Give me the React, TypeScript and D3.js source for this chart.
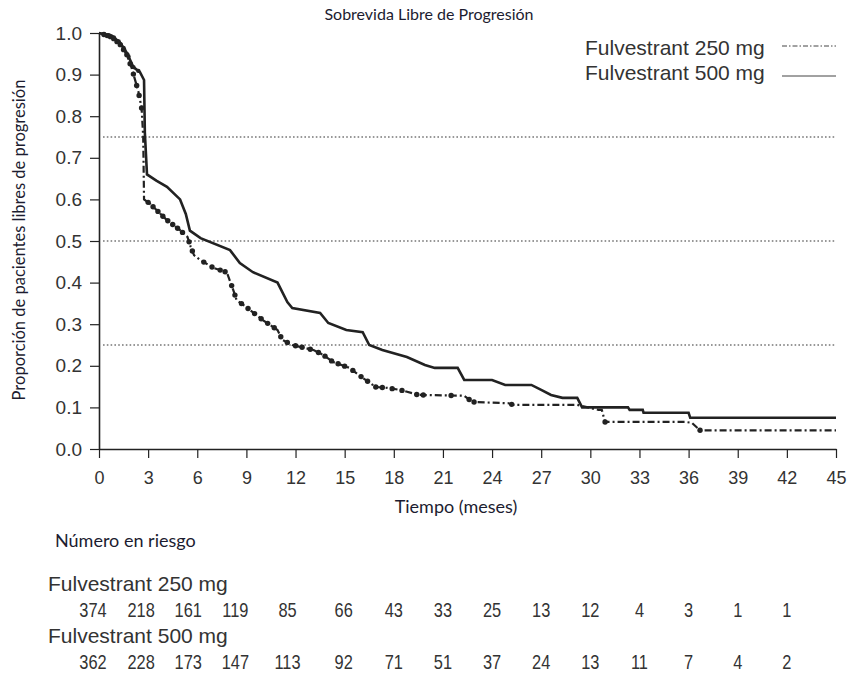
import React, { useEffect, useRef } from 'react';
import * as d3 from 'd3';

// Kaplan-Meier readings (months, proportion free of progression)
const months500 = [0, 0.8, 1.3, 1.7, 2.1, 2.5, 2.75, 2.8, 2.93, 3.5, 4.15, 4.95, 5.3, 5.55, 6.2, 8.0, 8.6, 9.4, 10.9, 11.5, 11.8, 13.5, 14.0, 15.1, 16.1, 16.5, 17.3, 18.8, 19.9, 20.5, 21.9, 22.3, 24.0, 24.8, 26.4, 27.0, 27.6, 28.3, 29.2, 29.5, 32.3, 32.4, 33.2, 33.25, 36.0, 36.1, 45];
const surv500 = [1.0, 0.993, 0.976, 0.952, 0.918, 0.906, 0.887, 0.76, 0.66, 0.645, 0.63, 0.60, 0.565, 0.525, 0.507, 0.478, 0.447, 0.425, 0.40, 0.353, 0.339, 0.327, 0.303, 0.286, 0.281, 0.25, 0.238, 0.221, 0.202, 0.195, 0.195, 0.166, 0.166, 0.154, 0.154, 0.142, 0.13, 0.123, 0.123, 0.10, 0.10, 0.094, 0.094, 0.087, 0.087, 0.075, 0.075];

const months250 = [0, 0.8, 1.3, 1.7, 2.0, 2.4, 2.6, 2.7, 2.75, 3.1, 3.5, 4.15, 4.95, 5.4, 5.6, 5.8, 6.2, 7.0, 7.8, 8.2, 8.4, 9.0, 10.0, 10.9, 11.2, 11.8, 13.1, 13.7, 14.3, 15.3, 16.1, 16.9, 17.6, 18.4, 19.5, 22.3, 22.8, 25.0, 25.3, 29.2, 30.5, 30.7, 30.9, 35.8, 36.2, 36.7, 45];
const surv250 = [1.0, 0.99, 0.972, 0.948, 0.915, 0.86, 0.82, 0.75, 0.60, 0.59, 0.575, 0.55, 0.526, 0.51, 0.486, 0.466, 0.454, 0.435, 0.425, 0.382, 0.358, 0.341, 0.31, 0.286, 0.262, 0.25, 0.238, 0.226, 0.209, 0.195, 0.171, 0.149, 0.147, 0.142, 0.13, 0.128, 0.113, 0.11, 0.106, 0.106, 0.094, 0.094, 0.065, 0.065, 0.063, 0.045, 0.045];

// censoring marks
const censor250 = [0.3, 0.5, 0.7, 0.9, 1.1, 1.3, 1.5, 1.7, 1.9, 2.1, 2.3, 2.45, 2.6, 3.0, 3.3, 3.6, 3.9, 4.2, 4.5, 4.8, 5.1, 5.5, 5.7, 6.4, 6.9, 7.4, 7.7, 8.1, 8.3, 8.7, 9.1, 9.5, 9.9, 10.3, 10.7, 11.1, 11.5, 12.0, 12.4, 12.9, 13.4, 13.8, 14.2, 14.6, 15.0, 15.5, 16.0, 16.4, 16.9, 17.3, 17.9, 18.5, 19.4, 19.8, 21.5, 22.6, 22.9, 25.2, 30.9, 36.7];
const censor500 = [0.3, 0.6, 0.9, 1.2, 1.5, 1.8, 2.1, 2.4];

const xTicks = [0, 3, 6, 9, 12, 15, 18, 21, 24, 27, 30, 33, 36, 39, 42, 45];
const yTicks = [0, 0.1, 0.2, 0.3, 0.4, 0.5, 0.6, 0.7, 0.8, 0.9, 1.0];
const refLines = [0.25, 0.5, 0.75];

const riskTimes = [0, 3, 6, 9, 12, 15, 18, 21, 24, 27, 30, 33, 36, 39, 42];
const risk250 = [374, 218, 161, 119, 85, 66, 43, 33, 25, 13, 12, 4, 3, 1, 1];
const risk500 = [362, 228, 173, 147, 113, 92, 71, 51, 37, 24, 13, 11, 7, 4, 2];

const groups = ['Fulvestrant 250 mg', 'Fulvestrant 500 mg'];

const W = 850, H = 674;
const sans = '"Liberation Sans", Arial, sans-serif';
const cal = 'Lato, "Open Sans", sans-serif';
const ink = '#222';
// the printed risk table drifts a little left of the ticks in its first columns
const riskShift = [-6, -7, -9, -11, -8, -1, 0, 0, 0, 0, 0, 0, 0, 0, 0];

function interp(ts: number[], ss: number[], t: number) {
  for (let i = 1; i < ts.length; i++) {
    if (t <= ts[i]) {
      const f = (t - ts[i - 1]) / (ts[i] - ts[i - 1] || 1);
      return ss[i - 1] + f * (ss[i] - ss[i - 1]);
    }
  }
  return ss[ss.length - 1];
}

export default function App() {
  const ref = useRef<SVGSVGElement>(null);

  useEffect(() => {
    const svg = d3.select(ref.current);
    svg.selectAll('*').remove();

    const x = d3.scaleLinear().domain([0, 45]).range([99, 836]);
    const y = d3.scaleLinear().domain([0, 1]).range([449, 33]);

    // title
    svg.append('text').attr('x', 429).attr('y', 20).attr('text-anchor', 'middle')
      .style('font-family', cal).style('font-size', '16px').style('fill', '#1c1c30')
      .text('Sobrevida Libre de Progresión');

    // reference lines
    svg.selectAll('.ref').data(refLines).join('line')
      .attr('x1', x(0) + 4).attr('x2', x(45)).attr('y1', d => y(d)).attr('y2', d => y(d))
      .attr('stroke', '#333').attr('stroke-width', 1.1).attr('stroke-dasharray', '1.6,2.2');

    // axes
    const xa = svg.append('g').attr('transform', `translate(0,${y(0)})`)
      .call(d3.axisBottom(x).tickValues(xTicks).tickSize(9).tickSizeOuter(0).tickPadding(13));
    const ya = svg.append('g').attr('transform', `translate(${x(0)},0)`)
      .call(d3.axisLeft(y).tickValues(yTicks).tickFormat(d3.format('.1f')).tickSize(9).tickSizeOuter(0).tickPadding(8));
    [xa, ya].forEach(a => {
      a.selectAll('path').attr('stroke', ink).attr('stroke-width', 1.6);
      a.selectAll('line').attr('stroke', ink).attr('stroke-width', 1.2);
      a.selectAll('text').style('font-family', sans).style('font-size', '18px').style('fill', '#333');
    });
    ya.selectAll('text').style('font-size', '19px');

    // curves
    const line = d3.line<[number, number]>().x(d => x(d[0])).y(d => y(d[1]));
    const pts250 = months250.map((t, i) => [t, surv250[i]] as [number, number]);
    const pts500 = months500.map((t, i) => [t, surv500[i]] as [number, number]);

    svg.append('path').attr('d', line(pts250)).attr('fill', 'none').attr('stroke', ink)
      .attr('stroke-width', 2.2).attr('stroke-dasharray', '7,3,2,3');
    svg.append('path').attr('d', line(pts500)).attr('fill', 'none').attr('stroke', ink)
      .attr('stroke-width', 2.6);

    svg.selectAll('.c250').data(censor250).join('circle')
      .attr('cx', d => x(d)).attr('cy', d => y(interp(months250, surv250, d)))
      .attr('r', 2.7).attr('fill', ink);
    svg.selectAll('.c500').data(censor500).join('circle')
      .attr('cx', d => x(d)).attr('cy', d => y(interp(months500, surv500, d)))
      .attr('r', 2.2).attr('fill', ink);

    // y label
    svg.append('text').attr('transform', 'translate(25,240) rotate(-90)').attr('text-anchor', 'middle')
      .style('font-family', cal).style('font-size', '16.5px').style('fill', '#1c1c30')
      .text('Proporción de pacientes libres de progresión');

    // x label
    svg.append('text').attr('x', 456).attr('y', 513).attr('text-anchor', 'middle')
      .style('font-family', cal).style('font-size', '18px').style('fill', '#1c1c30')
      .text('Tiempo (meses)');

    // legend
    const leg = svg.append('g');
    groups.forEach((g, i) => {
      leg.append('text').attr('x', 585).attr('y', 55 + i * 25)
        .style('font-family', sans).style('font-size', '21px').style('fill', '#333').text(g);
      leg.append('line').attr('x1', 782).attr('x2', 836).attr('y1', 46 + i * 30).attr('y2', 46 + i * 30)
        .attr('stroke', '#444').attr('stroke-width', 1)
        .attr('stroke-dasharray', i === 0 ? '5,2,1.5,2' : null);
    });

    // number at risk
    svg.append('text').attr('x', 55).attr('y', 547)
      .style('font-family', cal).style('font-size', '18px').style('fill', '#1c1c30')
      .text('Número en riesgo');

    [risk250, risk500].forEach((row, i) => {
      svg.append('text').attr('x', 48).attr('y', 591 + i * 52)
        .style('font-family', sans).style('font-size', '21px').style('fill', '#333').text(groups[i]);
      svg.selectAll(`.r${i}`).data(row).join('text')
        .attr('transform', (d, j) => `translate(${x(riskTimes[j]) + riskShift[j]},${617 + i * 52}) scale(0.82,1)`)
        .attr('text-anchor', 'middle')
        .style('font-family', sans).style('font-size', '20px').style('fill', '#333')
        .text(d => d);
    });
  }, []);

  return (
    <svg ref={ref} width={W} height={H} style={{ position: 'absolute', left: 0, top: 0, background: '#fff' }} />
  );
}
